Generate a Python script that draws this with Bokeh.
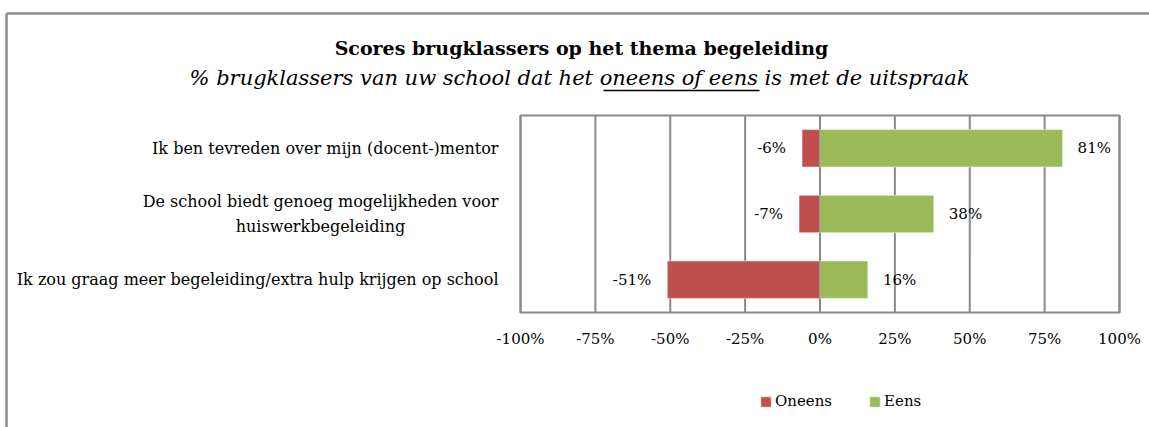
from bokeh.plotting import figure
from bokeh.models import (Range1d, FixedTicker, Legend, LegendItem, ColumnDataSource)
from bokeh.core.properties import value
from bokeh.embed import file_html
from bokeh.resources import INLINE

# ---- data ----
categories = [
    "Ik ben tevreden over mijn (docent-)mentor",
    "De school biedt genoeg mogelijkheden voor\nhuiswerkbegeleiding",
    "Ik zou graag meer begeleiding/extra hulp krijgen op school",
]
oneens = [-6, -7, -51]
eens = [81, 38, 16]
series_names = ["Oneens", "Eens"]
tick_values = [-100, -75, -50, -25, 0, 25, 50, 75, 100]
tick_labels = ["-100%", "-75%", "-50%", "-25%", "0%", "25%", "50%", "75%", "100%"]
title_text = "Scores brugklassers op het thema begeleiding"
subtitle_text = "% brugklassers van uw school dat het oneens of eens is met de uitspraak"

FONT = "DejaVu Serif"
RED = "#C0504D"
GREEN = "#9BBB59"
GRID = "#898989"
BORDER = "#8d8d8d"

# ---- layout (canvas pixels) ----
W, H = 1149, 427
BOX_L, BOX_R, BOX_T, BOX_B = 520, 1119, 115, 312   # plot box
n = len(categories)
xs = (BOX_R - BOX_L) / (tick_values[-1] - tick_values[0])   # px per %
ys = (BOX_B - BOX_T) / n                                      # px per row
x_start = tick_values[0] - BOX_L / xs
x_end = tick_values[-1] + (W - BOX_R) / xs
y_top = -0.5 - BOX_T / ys
y_bot = n - 0.5 + (H - BOX_B) / ys

ypos = list(range(n))
src = ColumnDataSource(dict(
    y=ypos, oneens=oneens, eens=eens,
    zero=[0] * n,
    oneens_lbl=[f"{v}%" for v in oneens],
    eens_lbl=[f"{v}%" for v in eens],
))

p = figure(width=W, height=H, output_backend="svg", toolbar_location=None,
           x_range=Range1d(x_start, x_end), y_range=Range1d(y_bot, y_top),
           y_axis_type=None, min_border=0)
p.extra_x_ranges = {"px": Range1d(0, W)}
p.extra_y_ranges = {"px": Range1d(H, 0)}
p.background_fill_color = "white"
p.border_fill_color = "white"
p.outline_line_color = None
p.grid.visible = False

# outer chart border
p.segment(x0=[6, 6], y0=[13, 13], x1=[W, 6], y1=[13, H],
          x_range_name="px", y_range_name="px", line_color=BORDER, line_width=2.5)

# gridlines and plot box
p.segment(x0=tick_values, y0=[n - 0.5] * len(tick_values),
          x1=tick_values, y1=[-0.5] * len(tick_values),
          line_color=GRID, line_width=2)
p.quad(left=[tick_values[0]], right=[tick_values[-1]], top=[-0.5], bottom=[n - 0.5],
       fill_color=None, line_color=GRID, line_width=2)

r_red = p.hbar(y="y", left="oneens", right="zero", height=0.57, source=src,
               fill_color=RED, line_color="white", line_width=0.5)
r_green = p.hbar(y="y", left="zero", right="eens", height=0.57, source=src,
                 fill_color=GREEN, line_color="white", line_width=0.5)
p.segment(x0=[0], y0=[n - 0.5], x1=[0], y1=[-0.5], line_color=GRID, line_width=1)

p.text(x="oneens", y="y", text="oneens_lbl", source=src, x_offset=-16,
       text_align="right", text_baseline="middle", text_font=value(FONT),
       text_font_size="15px", text_color="black")
p.text(x="eens", y="y", text="eens_lbl", source=src, x_offset=15,
       text_align="left", text_baseline="middle", text_font=value(FONT),
       text_font_size="15px", text_color="black")

# category labels (left of the plot box)
single = [i for i, c in enumerate(categories) if "\n" not in c]
multi = [i for i, c in enumerate(categories) if "\n" in c]
p.text(x=[tick_values[0]] * len(single), y=[ypos[i] for i in single],
       text=[categories[i] for i in single], x_offset=-22,
       text_align="right", text_baseline="middle", text_font=value(FONT),
       text_font_size="16px", text_color="black")
p.text(x=[tick_values[0]] * len(multi), y=[ypos[i] for i in multi],
       text=[categories[i] for i in multi], x_offset=-200,
       text_align="center", text_baseline="middle", text_font=value(FONT),
       text_font_size="16px", text_color="black", text_line_height=1.35)

# titles
p.text(x=[581], y=[47], text=[title_text], x_range_name="px", y_range_name="px",
       text_align="center", text_baseline="middle", text_font=value(FONT),
       text_font_size="19px", text_font_style="bold", text_color="black")
p.text(x=[579], y=[77], text=[subtitle_text], x_range_name="px", y_range_name="px",
       text_align="center", text_baseline="middle", text_font=value(FONT),
       text_font_size="21px", text_font_style="italic", text_color="black")
p.segment(x0=[603], y0=[90], x1=[759], y1=[90], x_range_name="px", y_range_name="px",
          line_color="black", line_width=1.5)

# x axis drawn at the bottom of the plot box
p.xaxis.fixed_location = n - 0.5
p.xaxis.ticker = FixedTicker(ticks=tick_values)
p.xaxis.major_label_overrides = {v: l for v, l in zip(tick_values, tick_labels)}
p.xaxis.axis_line_color = None
p.xaxis.major_tick_line_color = None
p.xaxis.minor_tick_line_color = None
p.xaxis.major_tick_out = 0
p.xaxis.major_tick_in = 0
p.xaxis.minor_tick_out = 0
p.xaxis.major_label_standoff = 17
p.xaxis.major_label_text_font = FONT
p.xaxis.major_label_text_font_size = "15px"
p.xaxis.major_label_text_color = "black"

legend = Legend(items=[LegendItem(label=series_names[0], renderers=[r_red]),
                       LegendItem(label=series_names[1], renderers=[r_green])],
                location=(759, 17), orientation="horizontal",
                glyph_width=13, glyph_height=13, label_standoff=3, spacing=36,
                padding=0, margin=0, border_line_color=None,
                background_fill_alpha=0,
                label_text_font=FONT, label_text_font_size="15px",
                label_text_color="black")
p.add_layout(legend, "center")

open("out.html", "w").write(file_html(p, INLINE))
